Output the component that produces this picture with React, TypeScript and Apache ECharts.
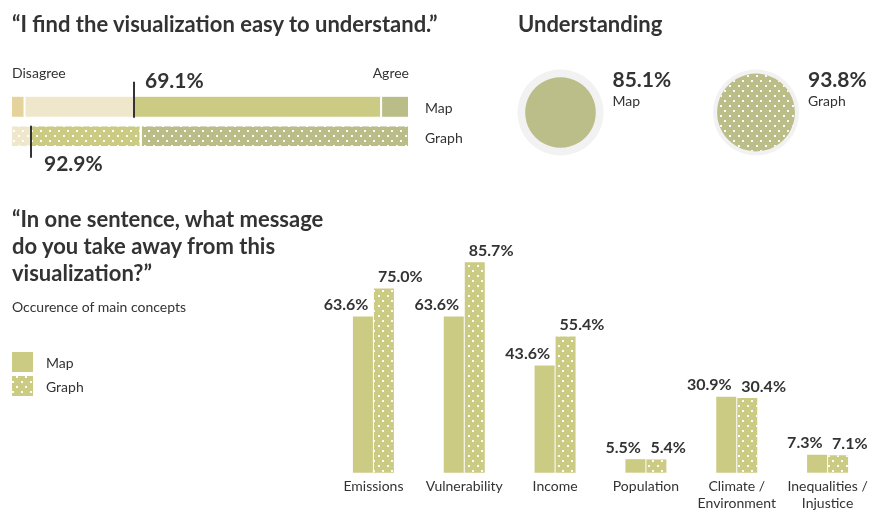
import React, { useEffect, useRef } from 'react';
import * as echarts from 'echarts';

// ---- data ----
const agreementRows = ['Map', 'Graph'];
const stronglyDisagree = [3.4, 0];
const disagree = [27.5, 5.0];
const agree = [62.1, 27.6];
const stronglyAgree = [7.0, 67.4];
const agreeLabels = ['69.1%', '92.9%'];

const understandingNames = ['Map', 'Graph'];
const understandingValues = [85.1, 93.8];

const concepts = ['Emissions', 'Vulnerability', 'Income', 'Population', 'Climate /\nEnvironment', 'Inequalities /\nInjustice'];
const mapValues = [63.6, 63.6, 43.6, 5.5, 30.9, 7.3];
const graphValues = [75.0, 85.7, 55.4, 5.4, 30.4, 7.1];

// ---- style ----
const FONT = 'Lato';
const INK = '#333333';
const C_SD = '#e4d49c';
const C_D = '#efe7cc';
const C_A = '#cccb84';
const C_SA = '#babd88';
const C_CIRCLE = '#bbbe88';
const dots: any = {
  symbol: 'rect',
  symbolSize: 1,
  color: 'rgba(255,255,255,0.95)',
  dashArrayX: [[1.6, 6.4], [0, 4, 1.6, 2.4]],
  dashArrayY: [1.6, 2.8],
  rotation: 0,
};
const circleX = [560.5, 756];

export default function App() {
  const ref = useRef<HTMLDivElement>(null);
  useEffect(() => {
    if (!ref.current) return;
    const chart = echarts.init(ref.current, undefined, { renderer: 'svg' });

    const stackSeries = (name: string, vals: number[], color: string) => ({
      type: 'bar',
      name,
      stack: 'agree',
      xAxisIndex: 0,
      yAxisIndex: 0,
      barWidth: 22,
      silent: true,
      itemStyle: { color, borderColor: '#ffffff', borderWidth: 1 },
      data: vals.map((v, i) => (i === 1 ? { value: v, itemStyle: { decal: dots } } : v)),
    });

    const fmt = (p: any) => Number(p.value).toFixed(1) + '%';
    const valueLabel = {
      show: true,
      position: 'top',
      distance: 5,
      fontSize: 16,
      fontWeight: 'bold',
      color: INK,
      fontFamily: FONT,
      formatter: fmt,
    };

    const pies: any[] = [];
    understandingValues.forEach((v, i) => {
      pies.push({
        type: 'pie',
        silent: true,
        center: [circleX[i], 112.5],
        radius: [0, 43],
        label: { show: false },
        labelLine: { show: false },
        data: [{ value: 1, name: 'ring ' + i, itemStyle: { color: '#f2f2f2' } }],
      });
      pies.push({
        type: 'pie',
        silent: true,
        center: [circleX[i], 112.5],
        radius: [0, (v / 100) * 41.5],
        label: { show: false },
        labelLine: { show: false },
        data: [{ value: v, name: understandingNames[i] + ' understanding', itemStyle: { color: C_CIRCLE, decal: i === 1 ? dots : undefined } }],
      });
    });

    chart.setOption({
      animation: false,
      grid: [
        { left: 11, top: 92, width: 398, height: 59, outerBoundsMode: 'none', containLabel: false },
        { left: 328, top: 227, width: 545, height: 245.7, outerBoundsMode: 'none', containLabel: false },
      ],
      xAxis: [
        { gridIndex: 0, type: 'value', min: 0, max: 100, show: false },
        {
          gridIndex: 1,
          type: 'category',
          data: concepts,
          axisLine: { show: false },
          axisTick: { show: false },
          axisLabel: { color: INK, fontSize: 14, lineHeight: 17.5, margin: 4, fontFamily: FONT, interval: 0 },
        },
      ],
      yAxis: [
        { gridIndex: 0, type: 'category', data: agreementRows, inverse: true, show: false },
        { gridIndex: 1, type: 'value', min: 0, max: 100, show: false },
      ],
      legend: {
        data: ['Map', 'Graph'],
        orient: 'vertical',
        left: 12,
        top: 352,
        padding: 0,
        itemWidth: 21,
        itemHeight: 20,
        itemGap: 4,
        icon: 'rect',
        selectedMode: false,
        textStyle: { fontSize: 14, color: INK, fontFamily: FONT, padding: [0, 0, 0, 8] },
      },
      series: [
        stackSeries('Strongly disagree', stronglyDisagree, C_SD),
        stackSeries('Disagree', disagree, C_D),
        stackSeries('Agree', agree, C_A),
        stackSeries('Strongly agree', stronglyAgree, C_SA),
        ...pies,
        {
          type: 'bar',
          name: 'Map',
          xAxisIndex: 1,
          yAxisIndex: 1,
          data: mapValues,
          barWidth: 20,
          barGap: '5%',
          silent: true,
          itemStyle: { color: C_A },
          label: { ...valueLabel, align: 'right', offset: [5.5, 0] },
        },
        {
          type: 'bar',
          name: 'Graph',
          xAxisIndex: 1,
          yAxisIndex: 1,
          data: graphValues,
          barWidth: 20,
          barGap: '5%',
          silent: true,
          itemStyle: { color: C_A, decal: dots },
          label: { ...valueLabel, align: 'left', offset: [-6, 0] },
        },
      ],
    });

    const txt = (text: string, x: number, y: number, size: number, bold: boolean, align = 'left') => ({
      type: 'text',
      x,
      y,
      z: 100,
      silent: true,
      style: {
        text,
        fill: INK,
        fontSize: size,
        fontWeight: bold ? 'bold' : 'normal',
        fontFamily: FONT,
        align,
        verticalAlign: 'middle',
      },
    });

    const graphics: any[] = [
      txt('“I find the visualization easy to understand.”', 12, 23, 22, true),
      txt('Understanding', 518, 23, 22, true),
      txt('Disagree', 12, 72, 14, false),
      txt('Agree', 409, 72, 14, false, 'right'),
      txt('Map', 425, 107, 14, false),
      txt('Graph', 425, 137, 14, false),
      txt('“In one sentence, what message', 12, 218, 22, true),
      txt('do you take away from this', 12, 245, 22, true),
      txt('visualization?”', 12, 272, 22, true),
      txt('Occurence of main concepts', 12, 306, 14, false),
    ];

    agreementRows.forEach((row, i) => {
      const boundary = stronglyDisagree[i] + disagree[i];
      const p = chart.convertToPixel({ gridIndex: 0 } as any, [boundary, row]) as number[];
      const px = Math.round(p[0]);
      const py = p[1];
      const up = i === 0;
      graphics.push({
        type: 'line',
        silent: true,
        z: 100,
        shape: { x1: px, y1: up ? py - 25 : py - 10.5, x2: px, y2: up ? py + 11 : py + 21.5 },
        style: { stroke: INK, lineWidth: 2 },
      });
      graphics.push(txt(agreeLabels[i], px + (up ? 11 : 13), up ? py - 27 : py + 26.5, 21, true));
    });

    understandingValues.forEach((v, i) => {
      graphics.push(txt(v.toFixed(1) + '%', circleX[i] + 52, 78, 21, true));
      graphics.push(txt(understandingNames[i], circleX[i] + 52, 100, 14, false));
    });

    chart.setOption({ graphic: graphics });

    return () => chart.dispose();
  }, []);

  return <div ref={ref} style={{ position: 'fixed', left: 0, top: 0, width: 869, height: 511 }} />;
}
